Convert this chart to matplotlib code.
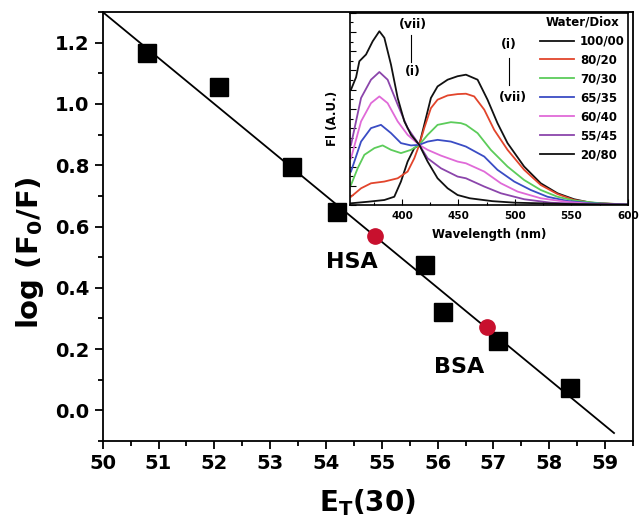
import matplotlib
matplotlib.use('Agg')
import matplotlib.pyplot as plt
from matplotlib.ticker import MultipleLocator, FormatStrFormatter

plt.rcParams['font.family'] = ['DejaVu Sans']
plt.rcParams['font.weight'] = 'bold'
plt.rcParams['mathtext.fontset'] = 'dejavusans'
plt.rcParams['mathtext.default'] = 'bf'

# quenching vs solvent polarity
et30 = [50.8, 52.08, 53.39, 54.19, 55.78, 56.09, 57.09, 58.38]
log_f0f = [1.166, 1.055, 0.794, 0.647, 0.474, 0.321, 0.227, 0.074]

protein_names = ['HSA', 'BSA']
protein_et30 = [54.87, 56.89]
protein_logf = [0.57, 0.272]

# linear fit line
fit_x = [50.0, 59.16]
fit_intercept = 1.30
fit_slope = -0.150

# emission spectra, water/dioxane mixtures
legend_labels = ['100/00', '80/20', '70/30', '65/35', '60/40', '55/45', '20/80']
colors = ['#111111', '#e2452c', '#5ccc5a', '#3a4cc4', '#e06ad8', '#8b45ab', '#111111']

wl_100 = [354.9, 370, 384.4, 393.2, 399.1, 405.0, 410.9, 415.3, 419.7, 425.6, 431.5, 440.4, 449.2,
          456.6, 466.9, 475.7, 484.5, 493.4, 508.1, 522.8, 537.6, 552.3, 567.0, 599.4]
fi_100 = [0.009, 0.017, 0.026, 0.043, 0.122, 0.226, 0.296, 0.313, 0.417, 0.557, 0.617, 0.652, 0.670,
          0.678, 0.652, 0.548, 0.426, 0.322, 0.200, 0.113, 0.061, 0.030, 0.012, 0.0]

wl_80 = [354.9, 363.8, 372.6, 384.4, 396.2, 405.0, 410.9, 415.3, 419.7, 425.6, 431.5, 440.4, 449.2,
         456.6, 463.9, 472.8, 481.6, 493.4, 508.1, 522.8, 537.6, 552.3, 567.0, 599.4]
fi_80 = [0.043, 0.087, 0.113, 0.122, 0.139, 0.174, 0.243, 0.313, 0.400, 0.504, 0.548, 0.570, 0.577,
         0.579, 0.565, 0.496, 0.391, 0.287, 0.183, 0.104, 0.057, 0.026, 0.012, 0.002]

wl_70 = [354.9, 360.8, 366.7, 375.6, 382.9, 390.3, 399.1, 408.0, 415.3, 422.7, 431.5, 443.3, 452.1,
         456.6, 466.9, 478.6, 493.4, 508.1, 522.8, 537.6, 552.3, 575.8, 599.4]
fi_70 = [0.104, 0.191, 0.261, 0.296, 0.310, 0.287, 0.270, 0.287, 0.313, 0.365, 0.417, 0.431, 0.426,
         0.417, 0.374, 0.287, 0.200, 0.130, 0.078, 0.043, 0.023, 0.009, 0.003]

wl_65 = [354.9, 363.8, 372.6, 381.4, 390.3, 399.1, 408.0, 415.3, 422.7, 431.5, 443.3, 452.1,
         456.6, 472.8, 484.5, 499.3, 514.0, 528.7, 546.4, 567.0, 599.4]
fi_65 = [0.174, 0.330, 0.400, 0.417, 0.374, 0.322, 0.310, 0.313, 0.330, 0.339, 0.330, 0.313,
         0.304, 0.252, 0.183, 0.122, 0.078, 0.043, 0.021, 0.009, 0.003]

wl_60 = [354.9, 363.8, 372.6, 380.0, 387.3, 396.2, 405.0, 415.3, 422.7, 434.5, 449.2,
         456.6, 472.8, 487.5, 502.2, 522.8, 546.4, 570.0, 599.4]
fi_60 = [0.243, 0.435, 0.530, 0.565, 0.530, 0.435, 0.365, 0.313, 0.287, 0.257, 0.226,
         0.217, 0.174, 0.113, 0.070, 0.035, 0.016, 0.005, 0.002]

wl_55 = [354.9, 363.8, 372.6, 380.0, 387.3, 396.2, 405.0, 415.3, 422.7, 434.5, 449.2,
         456.6, 472.8, 487.5, 508.1, 531.7, 567.0, 599.4]
fi_55 = [0.313, 0.557, 0.652, 0.692, 0.652, 0.522, 0.400, 0.313, 0.243, 0.191, 0.148,
         0.139, 0.096, 0.061, 0.030, 0.012, 0.003, 0.001]

wl_20 = [354.9, 359.4, 362.3, 368.2, 374.1, 380.0, 384.4, 390.3, 396.2, 402.1, 408.0, 415.3, 422.7,
         431.5, 440.4, 449.2, 460, 480, 500, 550, 599.4]
fi_20 = [0.60, 0.665, 0.748, 0.783, 0.852, 0.904, 0.870, 0.730, 0.557, 0.435, 0.365, 0.313, 0.226,
         0.139, 0.087, 0.052, 0.035, 0.020, 0.012, 0.005, 0.002]

spectra = [(wl_100, fi_100), (wl_80, fi_80), (wl_70, fi_70), (wl_65, fi_65),
           (wl_60, fi_60), (wl_55, fi_55), (wl_20, fi_20)]

fig = plt.figure(figsize=(6.39, 5.27), dpi=100)
ax = fig.add_axes([0.1607, 0.1632, 0.8299, 0.814])

ax.plot(fit_x, [fit_intercept + fit_slope * (x - 50) for x in fit_x], color='black', lw=1.3, zorder=2)
ax.plot(et30, log_f0f, 's', color='black', ms=13, zorder=3)
ax.plot(protein_et30, protein_logf, 'o', color='#c8102e', ms=11, zorder=3)
ax.text(54.46, 0.485, protein_names[0], fontsize=16, fontweight='bold', ha='center', va='center')
ax.text(56.39, 0.14, protein_names[1], fontsize=16, fontweight='bold', ha='center', va='center')

ax.set_xlim(50, 59.5)
ax.set_ylim(-0.1, 1.3)
ax.xaxis.set_major_locator(MultipleLocator(1))
ax.xaxis.set_minor_locator(MultipleLocator(0.5))
ax.yaxis.set_major_locator(MultipleLocator(0.2))
ax.yaxis.set_minor_locator(MultipleLocator(0.1))
ax.yaxis.set_major_formatter(FormatStrFormatter('%.1f'))
ax.tick_params(which='major', direction='out', length=6, width=1.3, labelsize=14)
ax.tick_params(which='minor', direction='out', length=3.5, width=1.3)
for lbl in ax.get_xticklabels() + ax.get_yticklabels():
    lbl.set_fontweight('bold')
for s in ax.spines.values():
    s.set_linewidth(1.3)
ax.set_xlabel('E$_\\mathbf{T}$(30)', fontsize=20, fontweight='bold', labelpad=10)
ax.set_ylabel('log (F$_\\mathbf{0}$/F)', fontsize=21, fontweight='bold')
ax.yaxis.set_label_coords(-0.107, 0.44)

# inset: emission spectra
ins = fig.add_axes([0.5477, 0.6110, 0.4351, 0.3647])
for (wl, fi), c, lab in zip(spectra, colors, legend_labels):
    ins.plot(wl, fi, color=c, lw=1.3, label=lab)
ins.set_xlim(354, 600)
ins.set_ylim(0, 1.0)
ins.xaxis.set_major_locator(MultipleLocator(50))
ins.xaxis.set_minor_locator(MultipleLocator(25))
ins.yaxis.set_major_locator(MultipleLocator(0.1))
ins.yaxis.set_minor_locator(MultipleLocator(0.05))
ins.set_yticklabels([])
ins.tick_params(which='major', direction='in', length=4, width=0.8, labelsize=7.5, pad=4)
ins.tick_params(which='minor', direction='in', length=2, width=0.8)
for lbl in ins.get_xticklabels():
    lbl.set_fontweight('bold')
for s in ins.spines.values():
    s.set_linewidth(1.2)
ins.set_xlabel('Wavelength (nm)', fontsize=8.5, fontweight='bold', labelpad=5)
ins.set_ylabel('Fl (A.U.)', fontsize=8.5, fontweight='bold')
ins.yaxis.set_label_coords(-0.04, 0.45)

ins.text(409.5, 0.94, '(vii)', fontsize=9, fontweight='bold', ha='center', va='center')
ins.plot([408.2, 408.2], [0.746, 0.887], color='black', lw=0.8)
ins.text(409.5, 0.694, '(i)', fontsize=9, fontweight='bold', ha='center', va='center')
ins.text(494.5, 0.835, '(i)', fontsize=9, fontweight='bold', ha='center', va='center')
ins.plot([494.3, 494.3], [0.626, 0.767], color='black', lw=0.8)
ins.text(497.8, 0.558, '(vii)', fontsize=9, fontweight='bold', ha='center', va='center')

leg = ins.legend(title='Water/Diox', loc='upper right', frameon=False, fontsize=8.5,
                 handlelength=2.9, labelspacing=0.5, borderaxespad=0.0, borderpad=0.25,
                 handletextpad=0.5)
leg.get_title().set_fontweight('bold')
leg.get_title().set_fontsize(8.5)
for t in leg.get_texts():
    t.set_fontweight('bold')

fig.savefig('out.png', dpi=100)
